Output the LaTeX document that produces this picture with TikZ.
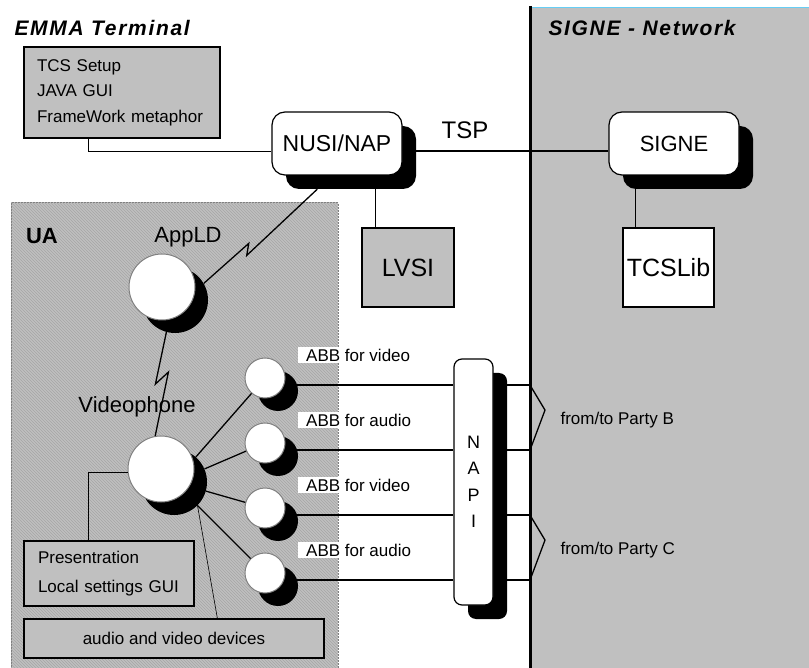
\documentclass[tikz,border=0pt]{standalone}
\usepackage{fontspec}
\setmainfont{Liberation Sans}
\newfontfamily\ttlfont[LetterSpace=8]{Liberation Sans}
\usepackage{xcolor}
\usetikzlibrary{patterns}
\definecolor{gr}{RGB}{192,192,192}

\begin{document}
\begin{tikzpicture}
[
  x=1pt, y=-1pt,
	every node/.style={font=\fontsize{17}{20}\selectfont},
	big/.style={font=\fontsize{22}{26}\selectfont},
	ttl/.style={font=\fontsize{21}{24}\ttlfont\bfseries\itshape,anchor=west},
	gbox/.style={draw,line width=1.2pt,fill=gr,inner sep=0pt},
	wbox/.style={draw,line width=1.2pt,fill=white,inner sep=0pt},
	rnd/.style={draw,line width=1.2pt,fill=white,rounded corners=13pt,minimum width=130pt,minimum height=63pt,inner sep=0pt},
	rnds/.style={fill=black,rounded corners=13pt,minimum width=130pt,minimum height=63pt,inner sep=0pt},
	ball/.style={circle,draw=gray,line width=1pt,fill=white,inner sep=0pt},
	balls/.style={circle,fill=black,inner sep=0pt},
	lbl/.style={fill=white,inner xsep=8pt,inner ysep=2pt,anchor=west},
	conn/.style={line width=1.3pt},
	fine/.style={line width=0.6pt}
]

\useasboundingbox (0,0) rectangle (809,668);

\fill[gr] (530,7) rectangle (809,668);
\draw[cyan!60,line width=0.8pt] (531,7) -- (809,7);
\coordinate (net) at (530,6);

\fill[gr] (11,203) rectangle (338,670);
\fill[pattern=north west lines,pattern color=gray!70] (11,203) rectangle (338,670);
\draw[gray,line width=1pt,dash pattern=on 2pt off 1pt] (11,670) -- (11,203) -- (338,203) -- (338,670);

\node[ttl] (emma) at (11,28) {EMMA Terminal};
\node[ttl] (signet) at (545,28) {SIGNE - Network};
\node[big,font=\fontsize{22}{26}\selectfont\bfseries] (ua) at (42,236) {UA};


\node[gbox,minimum width=196pt,minimum height=91pt,text width=170pt,inner xsep=13pt,align=left,font=\fontsize{17}{25.5}\selectfont] (tcs) at (122,92.5)
  {TCS Setup\\JAVA GUI\\FrameWork metaphor};

\node[rnds] (nusis) at (351,157.5) {};
\node[rnd,font=\fontsize{23}{26}\selectfont] (nusi) at (337,143.5) {NUSI/NAP};

\node[rnds] (signes) at (688,157.5) {};
\node[rnd,big] (signe) at (674,143.5) {SIGNE};

\node[gbox,minimum width=92pt,minimum height=79pt,font=\fontsize{25}{28}\selectfont] (lvsi) at (408,267.5) {LVSI};
\node[wbox,minimum width=91pt,minimum height=79pt,font=\fontsize{25}{28}\selectfont] (tcslib) at (668.5,267.5) {TCSLib};

\node[font=\fontsize{24}{28}\selectfont] (tsp) at (465,130) {TSP};

\draw[fine] (tcs.south west) ++(65,0) |- ([yshift=-7.5pt]nusi.west);
\draw[conn] ([yshift=-7.5pt]nusi.east) -- ([yshift=-7.5pt]signe.west);
\draw[conn] ([xshift=14pt]lvsi.north west) -- ([xshift=14pt]lvsi.north west |- nusis.south);
\draw[conn] ([xshift=13pt]tcslib.north west) -- ([xshift=13pt]tcslib.north west |- signes.south);


\node[balls,minimum size=66pt] (appls) at (175,300) {};
\node[ball,minimum size=66pt] (appl) at (162,287) {};
\node[big] (appllbl) at (188,237) {AppLD};

\node[balls,minimum size=66pt] (vps) at (174,482) {};
\node[ball,minimum size=66pt] (vp) at (161,469) {};
\node[big] (vplbl) at (137,407) {Videophone};

\foreach \i/\y in {1/378,2/443,3/508,4/573}
{
  \node[balls,minimum size=40pt] (abbs\i) at (278,\y+13) {};
  \node[ball,minimum size=40pt] (abb\i) at (265,\y) {};
}

\node[lbl] (l1) at (298,355) {ABB for video};
\node[lbl] (l2) at (298,420) {ABB for audio};
\node[lbl] (l3) at (298,485) {ABB for video};
\node[lbl] (l4) at (298,550) {ABB for audio};

\draw[conn] (appls.30) -- ++(45,-40) -- ++(-2,12) -- (nusis);
\draw[conn] (appls.-105) -- ++(-11,52) -- ++(13,-12) -- (vp.100);

\foreach \i in {1,...,4}
  \draw[conn] (vps) -- (abb\i);


\node[rnds,rounded corners=8pt,minimum width=39pt,minimum height=246pt] (napis) at (487.5,496) {};
\node[rnd,rounded corners=8pt,minimum width=39pt,minimum height=246pt,align=center,font=\fontsize{18}{26.5}\selectfont] (napi) at (473.5,482) {N\\A\\P\\I};

\foreach \i in {1,...,4}
{
  \draw[conn] (abbs\i.17) -- (abbs\i.17 -| napi.west);
  \draw[conn] (abbs\i.17 -| napis.east) -- (abbs\i.17 -| net);
}

\draw[conn] (abbs1.17 -| net) -- ++(15,25) -- (abbs2.17 -| net);
\draw[conn] (abbs3.17 -| net) -- ++(15,25) -- (abbs4.17 -| net);

\draw[line width=3pt] (net) -- (530,668);

\node[anchor=west] (pb) at (557,420) {from/to Party B};
\node[anchor=west] (pc) at (557,550) {from/to Party C};


\node[gbox,minimum width=170pt,minimum height=65pt,text width=142pt,inner xsep=14pt,align=left,font=\fontsize{17}{29}\selectfont] (pres) at (109,573.5)
  {Presentration\\Local settings GUI};
\node[gbox,minimum width=300pt,minimum height=39pt] (dev) at (174,638.5) {audio and video devices};

\draw[fine] (pres.north west) ++(65,0) |- (vp.185);
\draw[fine] (vps.-45) -- ([xshift=194pt]dev.north west);
\end{tikzpicture}
\end{document}
